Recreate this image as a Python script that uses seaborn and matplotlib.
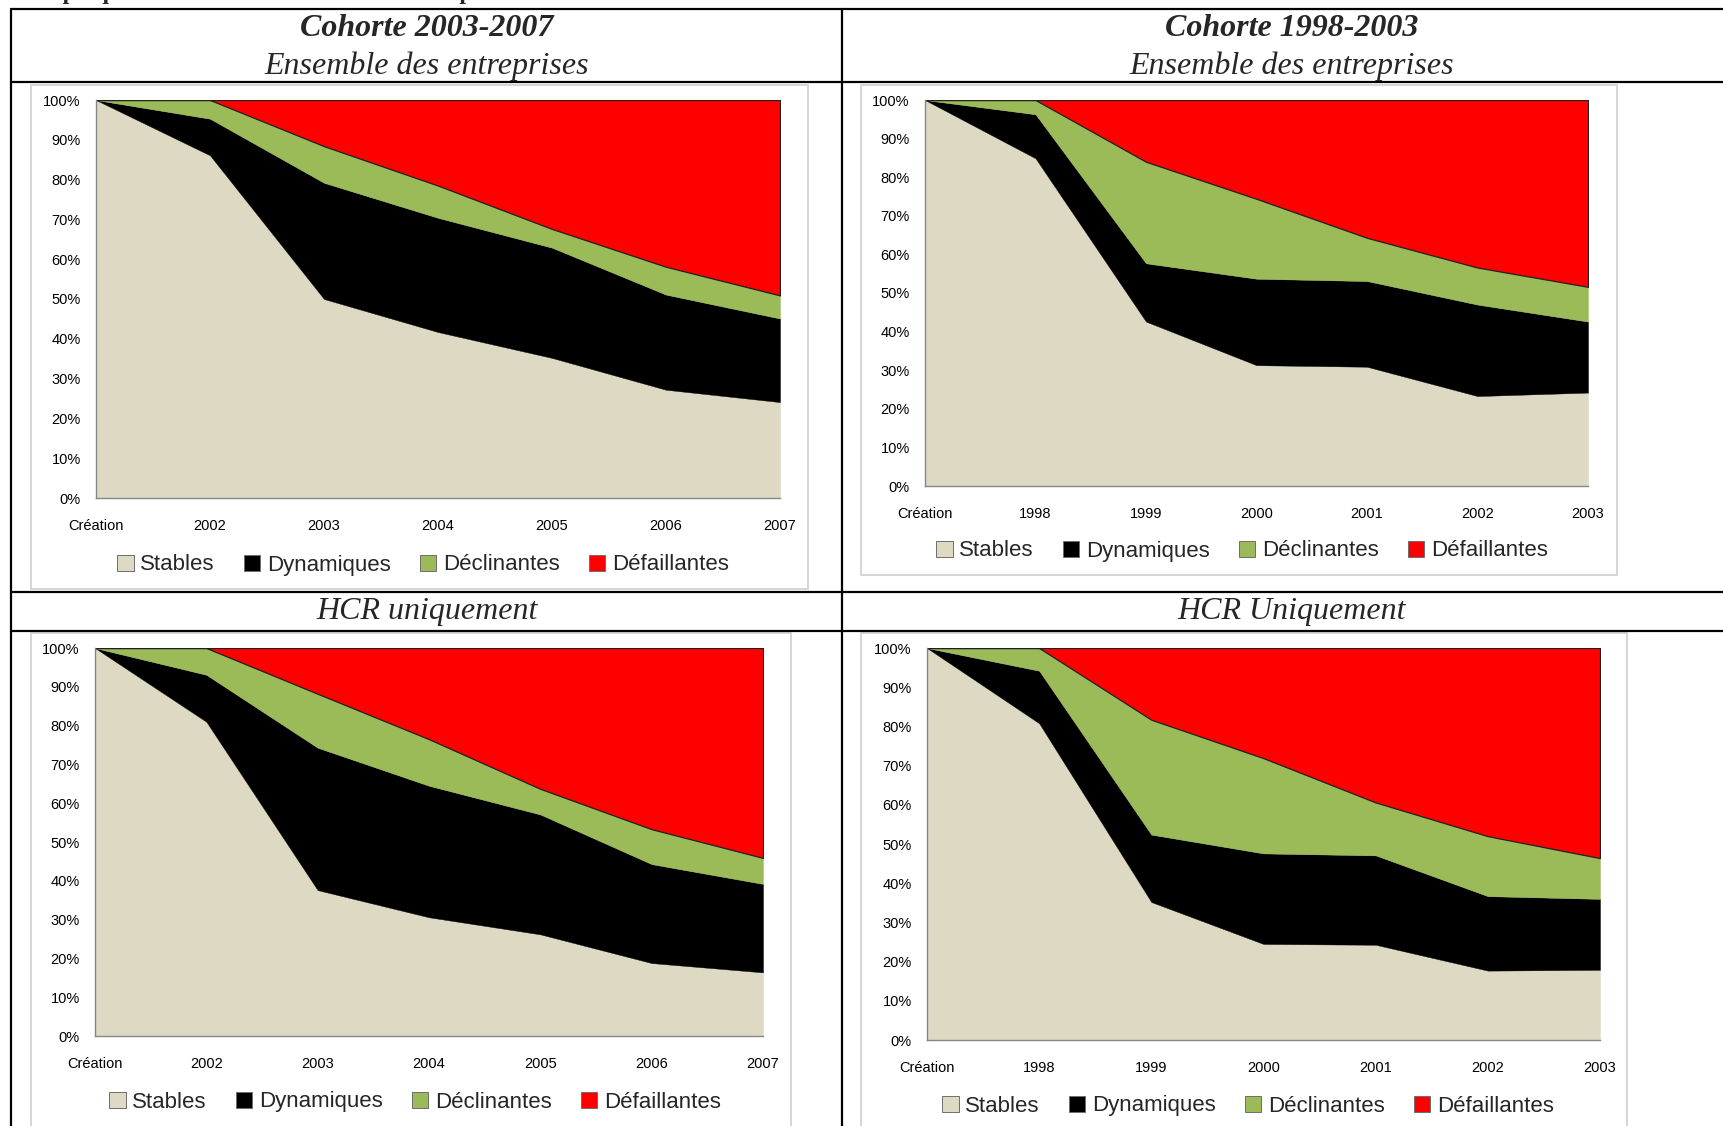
import matplotlib
matplotlib.use("Agg")
import matplotlib.pyplot as plt
import seaborn as sns
import numpy as np
from matplotlib.lines import Line2D
from matplotlib.patches import Patch, Rectangle
from matplotlib import font_manager

# Données (en %)
annees_0307 = ["Création", "2002", "2003", "2004", "2005", "2006", "2007"]
annees_9803 = ["Création", "1998", "1999", "2000", "2001", "2002", "2003"]
series = ["Stables", "Dynamiques", "Déclinantes", "Défaillantes"]
couleurs = ["#DDD9C3", "#000000", "#9BBB59", "#FF0000"]

# Cohorte 2003-2007, ensemble des entreprises
ens_0307_stables = [100, 86.1, 50.0, 41.7, 35.2, 27.2, 24.1]
ens_0307_dyn = [0, 9.2, 29.2, 28.7, 27.7, 23.9, 21.0]
ens_0307_decl = [0, 4.7, 9.2, 8.1, 4.7, 7.0, 5.8]
ens_0307_def = [0, 0, 11.6, 21.5, 32.4, 41.9, 49.1]

# Cohorte 1998-2003, ensemble des entreprises
ens_9803_stables = [100, 84.9, 42.6, 31.3, 30.9, 23.3, 24.2]
ens_9803_dyn = [0, 11.4, 15.1, 22.4, 22.2, 23.7, 18.4]
ens_9803_decl = [0, 3.7, 26.3, 20.7, 11.2, 9.6, 9.0]
ens_9803_def = [0, 0, 16.0, 25.6, 35.7, 43.4, 48.4]

# Cohorte 2003-2007, HCR uniquement
hcr_0307_stables = [100, 81.0, 37.6, 30.6, 26.2, 18.8, 16.4]
hcr_0307_dyn = [0, 12.1, 36.7, 33.9, 30.9, 25.5, 22.8]
hcr_0307_decl = [0, 6.9, 13.9, 12.0, 6.6, 9.0, 6.7]
hcr_0307_def = [0, 0, 11.8, 23.5, 36.3, 46.7, 54.1]

# Cohorte 1998-2003, HCR uniquement
hcr_9803_stables = [100, 80.8, 35.2, 24.5, 24.3, 17.7, 17.9]
hcr_9803_dyn = [0, 13.4, 17.2, 23.1, 22.8, 19.0, 18.1]
hcr_9803_decl = [0, 5.8, 29.3, 24.3, 13.5, 15.3, 10.4]
hcr_9803_def = [0, 0, 18.3, 28.1, 39.4, 48.0, 53.6]

sns.set_theme(style="white")
noms = {f.name for f in font_manager.fontManager.ttflist}
sans = "Liberation Sans Narrow" if "Liberation Sans Narrow" in noms else "Liberation Sans"
narrow = sans == "Liberation Sans Narrow"
plt.rcParams["font.family"] = [sans, "DejaVu Sans"]
serif = ["Liberation Serif", "DejaVu Serif"]

W, H = 1724, 1126
fig = plt.figure(figsize=(W / 100, H / 100), dpi=100)
fig.patch.set_facecolor("white")


def fx(px):
    return px / W


def fy(py):
    return 1 - py / H


def rect(x0, y0, x1, y1):
    return [fx(x0), fy(y1), fx(x1) - fx(x0), fy(y0) - fy(y1)]


# cadres gris des graphiques (zone de graphique Excel)
for (x0, y0, x1, y1) in [(31, 85, 808, 589), (861, 85, 1617, 575),
                         (31, 633, 791, 1135), (861, 633, 1627, 1135)]:
    fig.add_artist(Rectangle((fx(x0), fy(y1)), fx(x1) - fx(x0), fy(y0) - fy(y1),
                             transform=fig.transFigure, facecolor="white",
                             edgecolor="#D0D0D0", lw=1.2, zorder=0))

tick_fs = 11.5 if narrow else 10.5
leg_fs = 19.5 if narrow else 16


def panel(box, labels, stables, dyn, decl, defa, leg_xy):
    ax = fig.add_axes(rect(*box))
    x = np.arange(len(labels))
    polys = ax.stackplot(x, stables, dyn, decl, defa, colors=couleurs,
                         edgecolor="face", linewidth=0.3)
    polys[-1].set_edgecolor("#202020")
    polys[-1].set_linewidth(0.9)
    ax.set_xlim(0, len(labels) - 1)
    ax.set_ylim(0, 100)
    ax.set_xticks(x)
    ax.set_xticklabels(labels)
    ax.set_yticks(range(0, 101, 10))
    ax.set_yticklabels([f"{v}%" for v in range(0, 101, 10)])
    ax.tick_params(axis="x", length=0, pad=15, labelsize=tick_fs, colors="black")
    ax.tick_params(axis="y", length=0, pad=11, labelsize=tick_fs, colors="black")
    for s in ["top", "right"]:
        ax.spines[s].set_visible(False)
    for s in ["left", "bottom"]:
        ax.spines[s].set_color("#868686")
        ax.spines[s].set_linewidth(1.0)
    ax.set_facecolor("none")
    ax.grid(False)
    handles = [Patch(facecolor=c, edgecolor="#6E6E6E", lw=0.7) for c in couleurs]
    fig.legend(handles, series, loc="center", ncol=4, frameon=False,
               bbox_to_anchor=(fx(leg_xy[0]), fy(leg_xy[1])),
               bbox_transform=fig.transFigure, fontsize=leg_fs,
               handlelength=0.75, handleheight=0.75, handletextpad=0.3,
               columnspacing=1.3, borderpad=0)
    return ax


panel((96, 100, 780, 498), annees_0307, ens_0307_stables, ens_0307_dyn,
      ens_0307_decl, ens_0307_def, (423, 565))
panel((925, 100, 1588, 486), annees_9803, ens_9803_stables, ens_9803_dyn,
      ens_9803_decl, ens_9803_def, (1242, 551))
panel((95, 648, 763, 1036), annees_0307, hcr_0307_stables, hcr_0307_dyn,
      hcr_0307_decl, hcr_0307_def, (415, 1102))
panel((927, 648, 1600, 1040), annees_9803, hcr_9803_stables, hcr_9803_dyn,
      hcr_9803_decl, hcr_9803_def, (1248, 1106))

# lignes du tableau
lw = 1.6
for y in [9, 82, 592, 631]:
    fig.add_artist(Line2D([fx(11), 1], [fy(y), fy(y)], transform=fig.transFigure,
                          color="black", lw=lw))
for x in [11, 842]:
    fig.add_artist(Line2D([fx(x), fx(x)], [fy(9), 0], transform=fig.transFigure,
                          color="black", lw=lw))

# en-têtes
hdr = 23
fig.text(fx(427), fy(29), "Cohorte 2003-2007", ha="center", va="center",
         family=serif, style="italic", weight="bold", fontsize=hdr)
fig.text(fx(427), fy(66), "Ensemble des entreprises", ha="center", va="center",
         family=serif, style="italic", fontsize=hdr)
fig.text(fx(1292), fy(29), "Cohorte 1998-2003", ha="center", va="center",
         family=serif, style="italic", weight="bold", fontsize=hdr)
fig.text(fx(1292), fy(66), "Ensemble des entreprises", ha="center", va="center",
         family=serif, style="italic", fontsize=hdr)
fig.text(fx(427), fy(612), "HCR uniquement", ha="center", va="center",
         family=serif, style="italic", fontsize=hdr)
fig.text(fx(1292), fy(612), "HCR Uniquement", ha="center", va="center",
         family=serif, style="italic", fontsize=hdr)

# titre coupé en haut de la page
fig.text(fx(22), fy(4), "Graphique : Évolution des statuts des entreprises selon la cohorte et le secteur d'activité",
         ha="left", va="bottom", family=serif, weight="bold", fontsize=17)

fig.savefig("out.png", dpi=100, facecolor="white")
